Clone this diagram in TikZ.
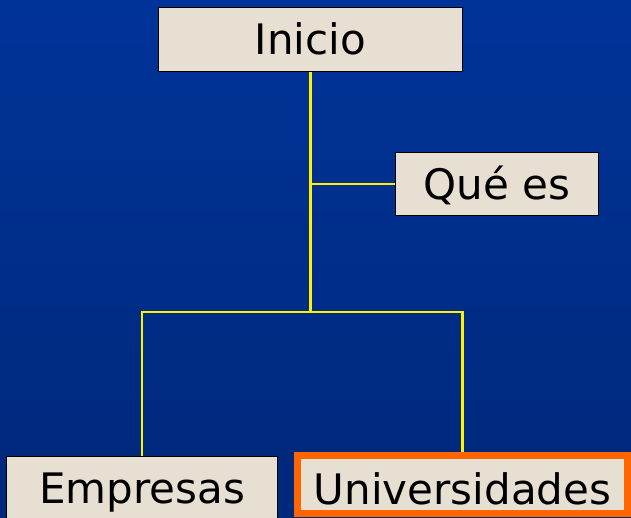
\documentclass[tikz,border=0pt]{standalone}
\usepackage{fontspec}
\newfontfamily\boxfont{DejaVu Sans}
\definecolor{slideblue}{RGB}{0,51,153}
\definecolor{slidedark}{RGB}{0,40,122}
\definecolor{paper}{RGB}{231,223,210}
\definecolor{mark}{RGB}{255,102,0}
\tikzset{
	box/.style={draw=black, line width=1.5pt, fill=paper, inner sep=0pt,
		text height=30pt, text depth=0pt, font=\boxfont\fontsize{42}{48}\selectfont},
	link/.style={draw=yellow, line width=2.5pt}
}
\begin{document}
\begin{tikzpicture}[x=1pt,y=-1pt]
			\clip (0,0) rectangle (631,517);
			\shade[top color=slideblue,bottom color=slidedark] (0,0) rectangle (631,517);
			\node (inicio) [box,minimum width=304pt,minimum height=64pt] at (310.5,39.5) {Inicio};
			\node (que) [box,minimum width=203pt,minimum height=63pt] at (497,184) {Qué es};
			\node (emp) [box,minimum width=271pt,minimum height=63pt] at (142,488) {Empresas};
			\node (univ) [box,draw=mark,line width=7pt,text height=39pt,minimum width=330pt,minimum height=58pt] at (462.5,484.5) {Universidades};
			\coordinate (branch) at (inicio.south |- que.west);
			\coordinate (split) at (inicio.south |- 0,312);
			\draw[link] (inicio.south) -- (split);
			\draw[link] (branch) -- (que.west);
			\draw[link] (split) -| (emp.north);
			\draw[link] (split) -| (univ.north);
		\end{tikzpicture}
\end{document}
